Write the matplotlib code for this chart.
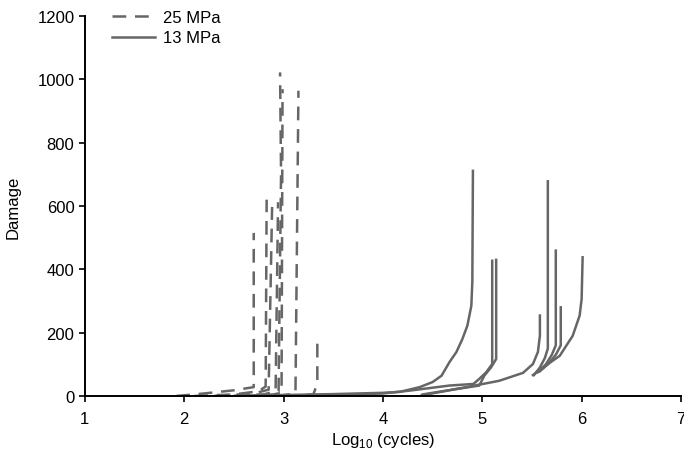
import matplotlib
matplotlib.use("Agg")
import matplotlib.pyplot as plt

plt.rcParams["font.family"] = ["Liberation Sans", "DejaVu Sans"]
plt.rcParams["mathtext.fontset"] = "custom"
plt.rcParams["mathtext.rm"] = "Liberation Sans"

# 25 MPa runs (dashed): log10(cycles), damage
d25_x = [
    [1.92, 2.2, 2.5, 2.7, 2.70, 2.70],
    [2.1, 2.5, 2.75, 2.82, 2.83],
    [2.3, 2.7, 2.85, 2.885],
    [2.5, 2.8, 2.92, 2.945],
    [2.5, 2.85, 2.95, 2.96, 2.975, 2.965],
    [2.6, 2.9, 2.98, 2.99],
    [2.7, 3.0, 3.12, 3.15],
    [3.0, 3.3, 3.34, 3.34],
]
d25_y = [
    [0, 8, 18, 28, 100, 515],
    [0, 5, 15, 30, 620],
    [0, 8, 20, 597],
    [0, 5, 15, 612],
    [0, 5, 15, 300, 700, 1022],
    [0, 5, 10, 969],
    [0, 3, 8, 964],
    [0, 5, 40, 190],
]

# 13 MPa runs (solid)
d13_x = [
    [2.6, 3.0, 3.5, 4.0, 4.17, 4.37, 4.5, 4.59, 4.67, 4.74, 4.80, 4.85, 4.89, 4.90, 4.906],
    [2.9, 3.5, 4.0, 4.27, 4.67, 4.91, 4.97, 5.04, 5.10, 5.10, 5.10],
    [4.4, 4.7, 4.97, 5.02, 5.09, 5.14, 5.14],
    [4.39, 4.84, 5.17, 5.41, 5.51, 5.56, 5.58, 5.58],
    [5.52, 5.58, 5.63, 5.66, 5.66],
    [5.56, 5.64, 5.70, 5.74, 5.74],
    [5.58, 5.66, 5.74, 5.79, 5.79],
    [5.51, 5.64, 5.78, 5.91, 5.98, 6.0, 6.01],
]
d13_y = [
    [0, 3, 6, 10, 13, 28, 44, 64, 107, 139, 180, 222, 285, 360, 711],
    [0, 3, 8, 17, 33, 38, 54, 75, 101, 200, 427],
    [5, 20, 33, 64, 91, 117, 430],
    [2, 28, 48, 73, 101, 139, 190, 254],
    [66, 90, 120, 150, 678],
    [75, 100, 130, 160, 459],
    [78, 100, 130, 160, 280],
    [66, 96, 127, 190, 254, 306, 438],
]

col = "#666666"
fs = 12
fig = plt.figure(figsize=(6.84, 4.56), dpi=100)
ax = fig.add_axes([0.124, 0.1294, 0.8716, 0.8333])

for i, (x, y) in enumerate(zip(d25_x, d25_y)):
    ax.plot(x, y, color=col, lw=1.8, dashes=(5.5, 3.5),
            label="25 MPa" if i == 0 else None)
for i, (x, y) in enumerate(zip(d13_x, d13_y)):
    ax.plot(x, y, color=col, lw=1.8,
            label="13 MPa" if i == 0 else None)

ax.set_xlim(1, 7)
ax.set_ylim(0, 1200)
ax.set_xticks(range(1, 8))
ax.set_yticks(range(0, 1201, 200))
ax.tick_params(labelsize=fs, length=4, width=1.2, color="black")
ax.tick_params(axis="x", pad=7)
for s in ["top", "right"]:
    ax.spines[s].set_visible(False)
for s in ["left", "bottom"]:
    ax.spines[s].set_linewidth(1.4)
ax.set_xlabel(r"Log$_{\mathregular{10}}$ (cycles)", fontsize=fs)
ax.set_ylabel("Damage", fontsize=fs)
ax.yaxis.set_label_coords(-0.107, 0.5)
ax.xaxis.set_label_coords(0.5, -0.09)
ax.legend(loc="upper left", bbox_to_anchor=(0.045, 1.017), frameon=False,
          fontsize=fs, handlelength=2.6, handletextpad=0.5, labelspacing=0.35,
          borderpad=0, borderaxespad=0)

fig.savefig("out.png", dpi=100)
